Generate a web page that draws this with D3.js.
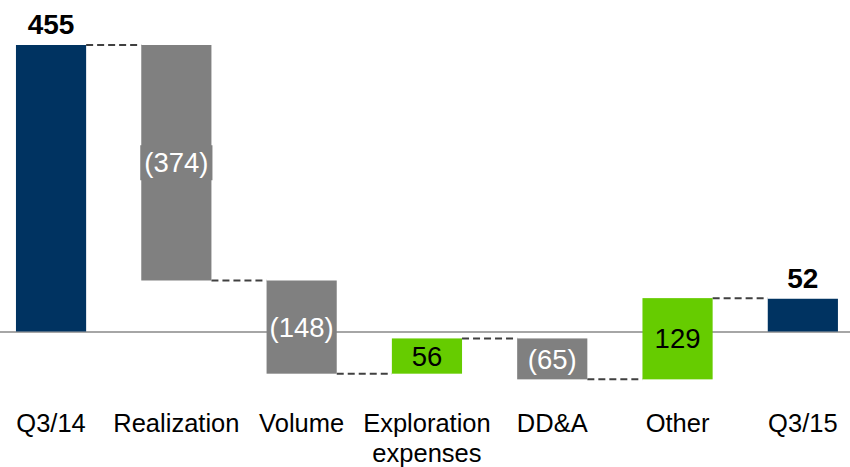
<!DOCTYPE html>
<html>
<head>
<meta charset="utf-8">
<script src="https://cdn.jsdelivr.net/npm/d3@7"></script>
<style>
  html, body { margin: 0; padding: 0; background: #fff; }
  svg { display: block; font-family: "Liberation Sans", Arial, sans-serif; }
</style>
</head>
<body>
<svg id="chart" width="850" height="467"></svg>
<script>
// Bridge of quarterly result, Q3/14 to Q3/15
const categories = ["Q3/14", "Realization", "Volume", "Exploration\nexpenses", "DD&A", "Other", "Q3/15"];
const values = [455, -374, -148, 56, -65, 129, 52];
const kinds = ["total", "delta", "delta", "delta", "delta", "delta", "total"];
const valueLabels = ["455", "(374)", "(148)", "56", "(65)", "129", "52"];
const boxedLabels = ["Realization"];

const colors = { total: "#003361", down: "#808080", up: "#66CC00" };

const W = 850, H = 467;
const svg = d3.select("#chart");

const x = d3.scaleBand()
  .domain(categories)
  .range([-11.6, 865.5])
  .paddingInner(0.44)
  .paddingOuter(0.22);

const y = d3.scaleLinear().domain([0, 455]).range([331.5, 45]);

// Running totals: each step floats between start and end levels
let level = 0;
const steps = categories.map((c, i) => {
  let start, end;
  if (kinds[i] === "total") { start = 0; end = values[i]; level = values[i]; }
  else { start = level; end = level + values[i]; level = end; }
  const color = kinds[i] === "total" ? colors.total : (values[i] < 0 ? colors.down : colors.up);
  return { cat: c, start, end, value: values[i], kind: kinds[i], label: valueLabels[i], color };
});

// Zero line
svg.append("line")
  .attr("x1", 0).attr("x2", W)
  .attr("y1", y(0) + 0.5).attr("y2", y(0) + 0.5)
  .attr("stroke", "#a6a6a6").attr("stroke-width", 2);

// Dashed connectors between neighbouring bars
steps.slice(0, -1).forEach((s, i) => {
  const next = steps[i + 1];
  const lvl = s.end;
  svg.append("line")
    .attr("x1", x(s.cat) + x.bandwidth())
    .attr("x2", x(next.cat))
    .attr("y1", y(lvl)).attr("y2", y(lvl))
    .attr("stroke", "#404040")
    .attr("stroke-width", 2)
    .attr("stroke-dasharray", "7,4");
});

// Bars
svg.selectAll("rect.bar")
  .data(steps)
  .join("rect")
  .attr("class", "bar")
  .attr("x", d => x(d.cat))
  .attr("width", x.bandwidth())
  .attr("y", d => y(Math.max(d.start, d.end)))
  .attr("height", d => Math.abs(y(d.start) - y(d.end)))
  .attr("fill", d => d.color);

// Totals: bold value above the bar
steps.filter(d => d.kind === "total").forEach(d => {
  svg.append("text")
    .attr("x", x(d.cat) + x.bandwidth() / 2)
    .attr("y", y(d.end) - 11)
    .attr("text-anchor", "middle")
    .attr("font-weight", "bold")
    .attr("font-size", 28)
    .attr("fill", "#000")
    .text(d.label);
});

// Changes: value centred inside the bar
steps.filter(d => d.kind === "delta").forEach(d => {
  const cx = x(d.cat) + x.bandwidth() / 2;
  const cy = (y(d.start) + y(d.end)) / 2;
  const g = svg.append("g");
  const t = g.append("text")
    .attr("x", cx)
    .attr("y", cy)
    .attr("dy", "0.35em")
    .attr("text-anchor", "middle")
    .attr("font-size", 27.5)
    .attr("fill", d.value < 0 ? "#fff" : "#000")
    .text(d.label);
  if (boxedLabels.includes(d.cat)) {
    const bb = t.node().getBBox();
    g.insert("rect", "text")
      .attr("x", bb.x - 4).attr("y", cy - 17.5)
      .attr("width", bb.width + 8).attr("height", 35)
      .attr("fill", d.color);
  }
});

// Category labels
steps.forEach(d => {
  const lines = d.cat.split("\n");
  const t = svg.append("text")
    .attr("x", x(d.cat) + x.bandwidth() / 2)
    .attr("y", 431.5)
    .attr("text-anchor", "middle")
    .attr("font-size", 25.5)
    .attr("fill", "#000");
  lines.forEach((ln, k) => {
    t.append("tspan")
      .attr("x", x(d.cat) + x.bandwidth() / 2)
      .attr("dy", k === 0 ? 0 : 30)
      .text(ln);
  });
});
</script>
</body>
</html>
